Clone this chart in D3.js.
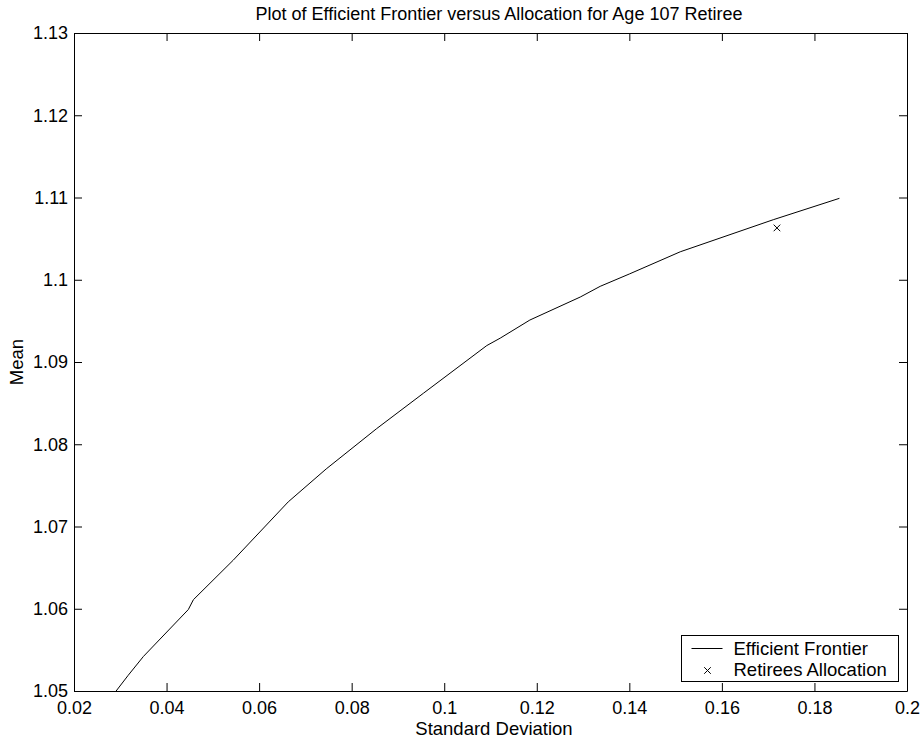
<!DOCTYPE html>
<html>
<head>
<meta charset="utf-8">
<script src="https://cdn.jsdelivr.net/npm/d3@7"></script>
<style>
  body { margin: 0; background: #fff; }
  svg { display: block; font-family: "Liberation Sans", Arial, Helvetica, sans-serif; }
  .axis text { font-size: 18px; fill: #000; }
  .axis line, .axis path { stroke: #000; }
</style>
</head>
<body>
<svg id="chart" width="923" height="742"></svg>
<script>
// efficient frontier
var sdValues = [0.0291, 0.0317, 0.0350, 0.0447, 0.0458, 0.0544, 0.0663, 0.0745, 0.0854,
  0.0955, 0.1092, 0.1121, 0.1185, 0.1294, 0.1337, 0.1400, 0.1510, 0.1711, 0.1854];
var meanValues = [1.0500, 1.0519, 1.0542, 1.0599, 1.0611, 1.0659, 1.0730, 1.0770, 1.0819,
  1.0862, 1.0920, 1.0929, 1.0951, 1.0979, 1.0992, 1.1007, 1.1034, 1.1073, 1.1099];

// the retiree's allocation
var allocSd = [0.1719];
var allocMean = [1.1063];

var xTicks = [0.02, 0.04, 0.06, 0.08, 0.1, 0.12, 0.14, 0.16, 0.18, 0.2];
var yTicks = [1.05, 1.06, 1.07, 1.08, 1.09, 1.1, 1.11, 1.12, 1.13];
var legendLabels = ['Efficient Frontier', 'Retirees Allocation'];
var titleText = 'Plot of Efficient Frontier versus Allocation for Age 107 Retiree';

var margin = {top: 33, right: 16, bottom: 51, left: 74};
var width = 923 - margin.left - margin.right;
var height = 742 - margin.top - margin.bottom;

var svg = d3.select('#chart');
var g = svg.append('g').attr('transform', 'translate(' + margin.left + ',' + margin.top + ')');

var x = d3.scaleLinear().domain([0.02, 0.2]).range([0, width]);
var y = d3.scaleLinear().domain([1.05, 1.13]).range([height, 0]);

function fmt(d) { return String(+d.toFixed(2)); }

// axes with inward ticks, mirrored on top and right
g.append('g').attr('class', 'axis')
  .attr('transform', 'translate(0,' + height + ')')
  .call(d3.axisBottom(x).tickValues(xTicks).tickFormat(fmt).tickSizeInner(-8).tickSizeOuter(0).tickPadding(10));
g.append('g').attr('class', 'axis')
  .call(d3.axisTop(x).tickValues(xTicks).tickFormat('').tickSizeInner(-8).tickSizeOuter(0));
g.append('g').attr('class', 'axis')
  .call(d3.axisLeft(y).tickValues(yTicks).tickFormat(fmt).tickSizeInner(-8).tickSizeOuter(0).tickPadding(6));
g.append('g').attr('class', 'axis')
  .attr('transform', 'translate(' + width + ',0)')
  .call(d3.axisRight(y).tickValues(yTicks).tickFormat('').tickSizeInner(-8).tickSizeOuter(0));

// frontier line
var line = d3.line()
  .x(function(d, i) { return x(sdValues[i]); })
  .y(function(d, i) { return y(meanValues[i]); });

g.append('path')
  .datum(sdValues)
  .attr('d', line)
  .attr('fill', 'none')
  .attr('stroke', '#000')
  .attr('stroke-width', 1)
  .attr('stroke-linejoin', 'round');

// x marker
var cross = d3.symbol().type(d3.symbolX).size(30);
g.selectAll('.alloc')
  .data(allocSd)
  .enter()
  .append('path')
  .attr('class', 'alloc')
  .attr('d', cross)
  .attr('transform', function(d, i) { return 'translate(' + x(d) + ',' + y(allocMean[i]) + ')'; })
  .attr('fill', 'none')
  .attr('stroke', '#000')
  .attr('stroke-width', 1);

// title and axis labels
svg.append('text')
  .attr('x', 499).attr('y', 20)
  .attr('text-anchor', 'middle')
  .style('font-size', '18px')
  .text(titleText);

svg.append('text')
  .attr('x', 494).attr('y', 735)
  .attr('text-anchor', 'middle')
  .style('font-size', '18.5px')
  .text('Standard Deviation');

svg.append('text')
  .attr('transform', 'translate(23,' + (margin.top + height / 2) + ') rotate(-90)')
  .attr('text-anchor', 'middle')
  .style('font-size', '18.5px')
  .text('Mean');

// legend
var legend = svg.append('g').attr('transform', 'translate(681.5,635.5)');
legend.append('rect')
  .attr('width', 217).attr('height', 46)
  .attr('fill', '#fff').attr('stroke', '#000');
legend.append('line')
  .attr('x1', 10).attr('x2', 41).attr('y1', 13).attr('y2', 13)
  .attr('stroke', '#000');
legend.append('path')
  .attr('d', cross)
  .attr('transform', 'translate(26,35)')
  .attr('fill', 'none').attr('stroke', '#000');
legend.selectAll('.label')
  .data(legendLabels)
  .enter()
  .append('text')
  .attr('class', 'label')
  .attr('x', 52)
  .attr('y', function(d, i) { return 19 + i * 21; })
  .style('font-size', '18.5px')
  .text(function(d) { return d; });
</script>
</body>
</html>
